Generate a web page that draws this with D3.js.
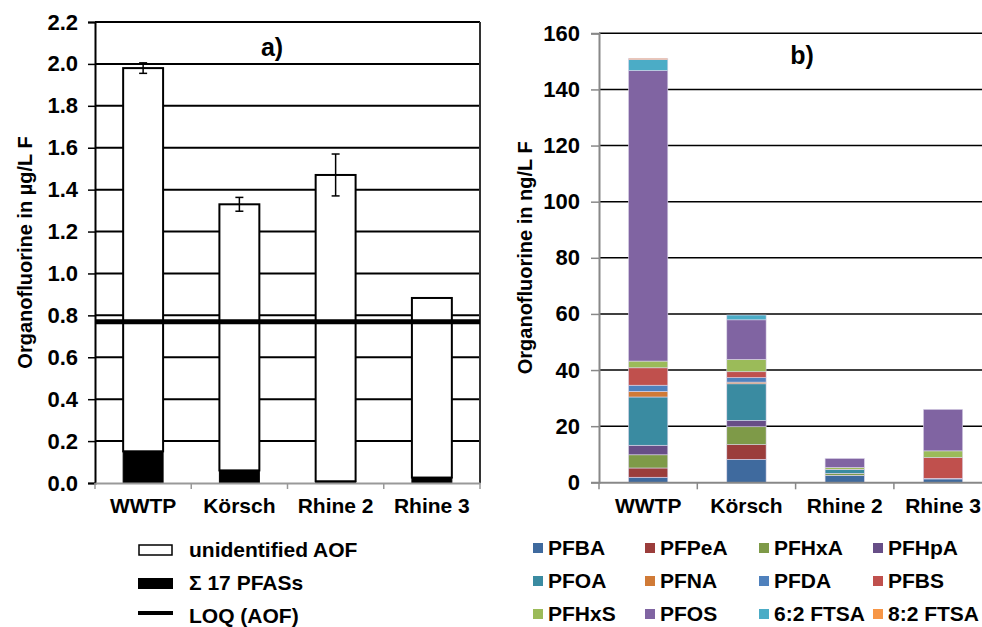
<!DOCTYPE html>
<html>
<head>
<meta charset="utf-8">
<script src="https://cdn.jsdelivr.net/npm/d3@7"></script>
<style>
  body { margin: 0; background: #fff; }
  svg { display: block; font-family: "Liberation Sans", Arial, sans-serif; font-weight: bold; }
</style>
</head>
<body>
<svg id="chart" width="982" height="627"></svg>
<script>
// sites
const sites = ["WWTP", "Körsch", "Rhine 2", "Rhine 3"];

// panel a) in µg/L F
const pfasSum = [0.151, 0.060, 0.008, 0.026];
const unidentified = [1.829, 1.270, 1.462, 0.857];
const aofError = [0.025, 0.033, 0.10, 0];
const loq = 0.77;
const ticksA = [0, 0.2, 0.4, 0.6, 0.8, 1.0, 1.2, 1.4, 1.6, 1.8, 2.0, 2.2];

// panel b) in ng/L F, one array per compound (WWTP, Körsch, Rhine 2, Rhine 3)
const compounds = ["PFBA", "PFPeA", "PFHxA", "PFHpA", "PFOA", "PFNA", "PFDA", "PFBS", "PFHxS", "PFOS", "6:2 FTSA", "8:2 FTSA"];
const PFBA    = [1.8, 8.2, 2.4, 1.2];
const PFPeA   = [3.3, 5.2, 0.1, 0.2];
const PFHxA   = [4.7, 6.4, 0.7, 0];
const PFHpA   = [3.4, 2.2, 0, 0];
const PFOA    = [17.2, 13.1, 1.3, 0];
const PFNA    = [2.0, 0.6, 0, 0];
const PFDA    = [2.2, 1.6, 0, 0];
const PFBS    = [6.2, 2.1, 0.1, 7.4];
const PFHxS   = [2.4, 4.4, 0.7, 2.4];
const PFOS    = [103.5, 14.1, 3.2, 14.8];
const FTSA62  = [3.9, 1.7, 0, 0];
const FTSA82  = [0.5, 0, 0, 0];
const seriesB = [PFBA, PFPeA, PFHxA, PFHpA, PFOA, PFNA, PFDA, PFBS, PFHxS, PFOS, FTSA62, FTSA82];
const colorsB = ["#3f6a9e", "#9b3d3b", "#7e9a48", "#674e87", "#3a8ba1", "#d07a36",
                 "#4f81bd", "#c0504d", "#9bbb59", "#8064a2", "#4bacc6", "#f79646"];
const ticksB = [0, 20, 40, 60, 80, 100, 120, 140, 160];

const svg = d3.select("#chart");

// ---------- panel a ----------
const xa = d3.scaleBand().domain(sites).range([95, 480]);
const ya = d3.scaleLinear().domain([0, 2.2]).range([483, 22]);
const barW = xa.bandwidth() * 0.415;
const ga = svg.append("g");

// gridlines
ga.append("g").selectAll("line").data(ticksA.slice(1)).join("line")
  .attr("x1", 95).attr("x2", 480)
  .attr("y1", d => ya(d)).attr("y2", d => ya(d))
  .attr("stroke", "#000").attr("stroke-width", 2);

// right frame
ga.append("line").attr("x1", 480).attr("x2", 480).attr("y1", ya(2.2)).attr("y2", ya(0))
  .attr("stroke", "#333").attr("stroke-width", 2);

const dataA = sites.map((s, i) => ({ site: s, pfas: pfasSum[i], unid: unidentified[i], err: aofError[i] }));

ga.append("g").selectAll("rect").data(dataA).join("rect")
  .attr("x", d => xa(d.site) + (xa.bandwidth() - barW) / 2)
  .attr("width", barW)
  .attr("y", d => ya(d.pfas + d.unid))
  .attr("height", d => ya(d.pfas) - ya(d.pfas + d.unid))
  .attr("fill", "#fff").attr("stroke", "#000").attr("stroke-width", 2);

ga.append("g").selectAll("rect").data(dataA).join("rect")
  .attr("x", d => xa(d.site) + (xa.bandwidth() - barW) / 2)
  .attr("width", barW)
  .attr("y", d => ya(d.pfas))
  .attr("height", d => ya(0) - ya(d.pfas))
  .attr("fill", "#000").attr("stroke", "#000").attr("stroke-width", 1);

// LOQ line
ga.append("line").attr("x1", 95).attr("x2", 480).attr("y1", ya(loq)).attr("y2", ya(loq))
  .attr("stroke", "#000").attr("stroke-width", 5);

// error bars
const eb = ga.append("g").selectAll("g").data(dataA.filter(d => d.err > 0)).join("g")
  .attr("stroke", "#000").attr("stroke-width", 1.5);
eb.append("line")
  .attr("x1", d => xa(d.site) + xa.bandwidth() / 2).attr("x2", d => xa(d.site) + xa.bandwidth() / 2)
  .attr("y1", d => ya(d.pfas + d.unid + d.err)).attr("y2", d => ya(d.pfas + d.unid - d.err));
[1, -1].forEach(sg => {
  eb.append("line")
    .attr("x1", d => xa(d.site) + xa.bandwidth() / 2 - 4).attr("x2", d => xa(d.site) + xa.bandwidth() / 2 + 4)
    .attr("y1", d => ya(d.pfas + d.unid + sg * d.err)).attr("y2", d => ya(d.pfas + d.unid + sg * d.err));
});

// y axis
const axA = ga.append("g").attr("transform", "translate(95,0)")
  .call(d3.axisLeft(ya).tickValues(ticksA).tickFormat(d3.format(".1f")).tickSize(7).tickPadding(10));
axA.select(".domain").attr("stroke", "#000").attr("stroke-width", 2);
axA.selectAll(".tick line").attr("stroke", "#000").attr("stroke-width", 1.5);
axA.selectAll(".tick text").attr("font-size", 22).attr("font-family", null).attr("fill", "#000");

// x axis
const axXA = ga.append("g").attr("transform", `translate(0,${ya(0)})`)
  .call(d3.axisBottom(xa).tickSize(0).tickPadding(15));
axXA.select(".domain").attr("stroke", "#999").attr("stroke-width", 2);
axXA.selectAll(".tick text").attr("font-size", 21).attr("font-family", null).attr("fill", "#000");
ga.append("g").selectAll("line").data(sites.concat(["end"])).join("line")
  .attr("x1", (d, i) => 95 + i * xa.step()).attr("x2", (d, i) => 95 + i * xa.step())
  .attr("y1", ya(0)).attr("y2", ya(0) + 6).attr("stroke", "#999").attr("stroke-width", 1.5);

ga.append("text").attr("transform", `translate(32,${(ya(0) + ya(2.2)) / 2}) rotate(-90)`)
  .attr("text-anchor", "middle").attr("font-size", 20).text("Organofluorine in µg/L F");
ga.append("text").attr("x", 272).attr("y", 56).attr("text-anchor", "middle").attr("font-size", 25).text("a)");

// legend a
const legA = ga.append("g");
legA.append("rect").attr("x", 139).attr("y", 545).attr("width", 33).attr("height", 10)
  .attr("fill", "#fff").attr("stroke", "#000").attr("stroke-width", 1.5);
legA.append("rect").attr("x", 138).attr("y", 578).attr("width", 35).attr("height", 11).attr("fill", "#000");
legA.append("line").attr("x1", 138).attr("x2", 173).attr("y1", 613).attr("y2", 613)
  .attr("stroke", "#000").attr("stroke-width", 4);
legA.selectAll("text").data(["unidentified AOF", "Σ 17 PFASs", "LOQ (AOF)"]).join("text")
  .attr("x", 189).attr("y", (d, i) => 557 + i * 33).attr("font-size", 21).text(d => d);

// ---------- panel b ----------
const xb = d3.scaleBand().domain(sites).range([599, 599 + 4 * 98.3]);
const yb = d3.scaleLinear().domain([0, 160]).range([482.3, 33.3]);
const barWB = xb.bandwidth() * 0.40;
const gb = svg.append("g");

gb.append("g").selectAll("line").data(ticksB.slice(1)).join("line")
  .attr("x1", 599).attr("x2", 982)
  .attr("y1", d => yb(d)).attr("y2", d => yb(d))
  .attr("stroke", "#000").attr("stroke-width", 1.5);

const tableB = sites.map((s, i) => {
  const row = { site: s };
  compounds.forEach((c, j) => row[c] = seriesB[j][i]);
  return row;
});
const stacked = d3.stack().keys(compounds)(tableB);

gb.append("g").selectAll("g").data(stacked).join("g")
  .attr("fill", (d, i) => colorsB[i])
  .selectAll("rect").data(d => d.filter(p => p[1] - p[0] > 0)).join("rect")
  .attr("x", d => xb(d.data.site) + (xb.bandwidth() - barWB) / 2)
  .attr("width", barWB)
  .attr("y", d => yb(d[1]))
  .attr("height", d => yb(d[0]) - yb(d[1]))
  .attr("stroke", "#dcd6ea").attr("stroke-width", 0.6);

const axB = gb.append("g").attr("transform", "translate(599,0)")
  .call(d3.axisLeft(yb).tickValues(ticksB).tickSize(8).tickPadding(11));
axB.select(".domain").attr("stroke", "#888").attr("stroke-width", 2);
axB.selectAll(".tick line").attr("stroke", "#888").attr("stroke-width", 1.5);
axB.selectAll(".tick text").attr("font-size", 22).attr("font-family", null).attr("fill", "#000");

const axXB = gb.append("g").attr("transform", `translate(0,${yb(0)})`)
  .call(d3.axisBottom(xb).tickSize(0).tickPadding(16));
axXB.select(".domain").attr("stroke", "#888").attr("stroke-width", 2);
axXB.selectAll(".tick text").attr("font-size", 21).attr("font-family", null).attr("fill", "#000");
gb.append("g").selectAll("line").data(sites).join("line")
  .attr("x1", (d, i) => 599 + i * xb.step()).attr("x2", (d, i) => 599 + i * xb.step())
  .attr("y1", yb(0)).attr("y2", yb(0) + 7).attr("stroke", "#888").attr("stroke-width", 1.5);

gb.append("text").attr("transform", `translate(532,${(yb(0) + yb(160)) / 2}) rotate(-90)`)
  .attr("text-anchor", "middle").attr("font-size", 20).text("Organofluorine in ng/L F");
gb.append("text").attr("x", 802).attr("y", 64).attr("text-anchor", "middle").attr("font-size", 25).text("b)");

// legend b
const legB = gb.append("g").selectAll("g").data(compounds).join("g")
  .attr("transform", (d, i) => `translate(${[533, 645, 759, 873][i % 4]},${548 + Math.floor(i / 4) * 33})`);
legB.append("rect").attr("x", 0).attr("y", -5).attr("width", 10).attr("height", 10)
  .attr("fill", (d, i) => colorsB[i]);
legB.append("text").attr("x", 15).attr("y", 7).attr("font-size", 21).text(d => d);
</script>
</body>
</html>
